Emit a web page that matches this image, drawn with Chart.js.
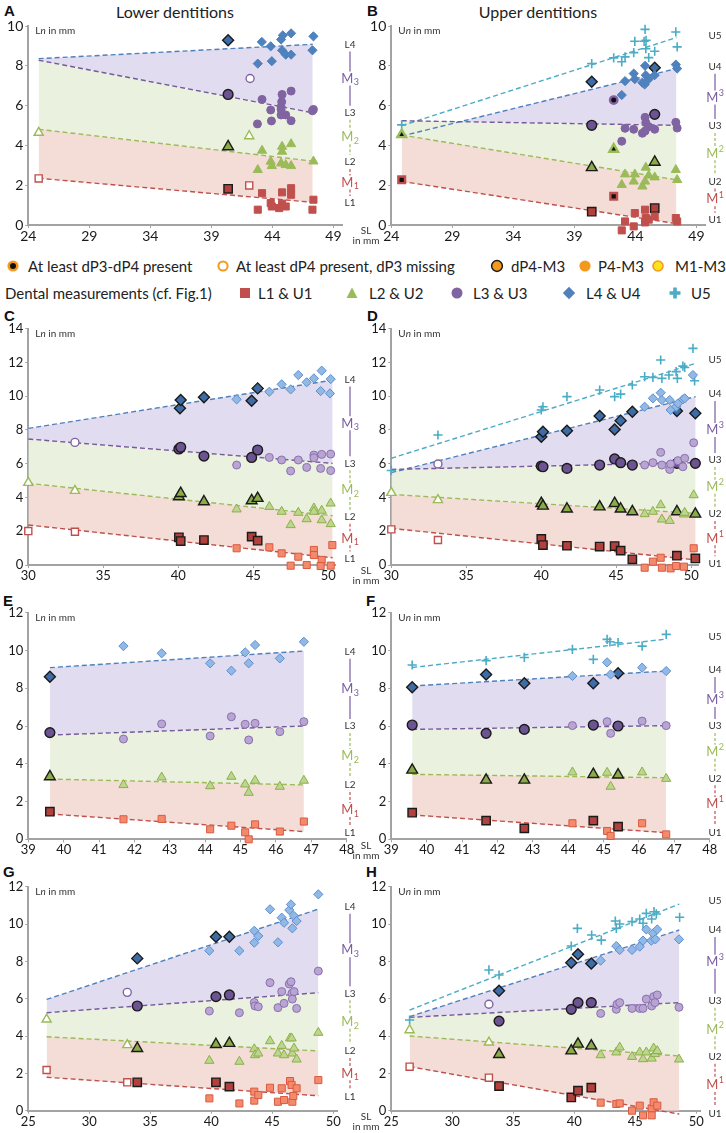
<!DOCTYPE html>
<html>
<head>
<meta charset="UTF-8">
<title>Lower and upper dentitions</title>
<script src="https://cdn.jsdelivr.net/npm/chart.js"></script>
<style>
  html, body { margin: 0; padding: 0; background: #fff; }
  #page { position: relative; width: 726px; height: 1133px; overflow: hidden; font-family: Lato, "Open Sans", sans-serif; color: #222; }
  #page canvas { position: absolute; }
  .tag { position: absolute; font: bold 15px "Liberation Sans", Arial, sans-serif; line-height: 15px; color: #111; }
  .title { position: absolute; width: 350px; text-align: center; font-size: 16px; line-height: 20px; }
  .leg { position: absolute; font-size: 15px; line-height: 18px; white-space: nowrap; }
  .mk { position: absolute; overflow: visible; }
</style>
</head>
<body>
<div id="page">
  <div class="tag" style="left:4px;top:3px">A</div>
  <div class="tag" style="left:367px;top:3px">B</div>
  <div class="tag" style="left:4px;top:308px">C</div>
  <div class="tag" style="left:367px;top:308px">D</div>
  <div class="tag" style="left:3px;top:593px">E</div>
  <div class="tag" style="left:366px;top:593px">F</div>
  <div class="tag" style="left:3px;top:864px">G</div>
  <div class="tag" style="left:366px;top:864px">H</div>
  <div class="title" style="left:0px;top:2px">Lower dentitions</div>
  <div class="title" style="left:363px;top:2px">Upper dentitions</div>

  <!-- legend, row 1 -->
  <svg class="mk" style="left:6px;top:259px" width="14" height="14"><circle cx="7" cy="7" r="4.3" fill="#111" stroke="#f39a1e" stroke-width="2.6"/></svg>
  <div class="leg" style="left:28px;top:257px">At least dP3-dP4 present</div>
  <svg class="mk" style="left:216px;top:259px" width="14" height="14"><circle cx="7" cy="7" r="4.6" fill="#fff" stroke="#f39a1e" stroke-width="2"/></svg>
  <div class="leg" style="left:236px;top:257px">At least dP4 present, dP3 missing</div>
  <svg class="mk" style="left:490px;top:259px" width="14" height="14"><circle cx="7" cy="7" r="5.4" fill="#f39a1e" stroke="#1a1a1a" stroke-width="1.5"/></svg>
  <div class="leg" style="left:511px;top:257px">dP4-M3</div>
  <svg class="mk" style="left:578px;top:259px" width="14" height="14"><circle cx="7" cy="7" r="5.6" fill="#f39a1e"/></svg>
  <div class="leg" style="left:598px;top:257px">P4-M3</div>
  <svg class="mk" style="left:651px;top:259px" width="14" height="14"><circle cx="7" cy="7" r="5" fill="#ffe21c" stroke="#f39a1e" stroke-width="1.6"/></svg>
  <div class="leg" style="left:675px;top:257px">M1-M3</div>

  <!-- legend, row 2 -->
  <div class="leg" style="left:5px;top:284px">Dental measurements (cf. Fig.1)</div>
  <svg class="mk" style="left:238px;top:286px" width="14" height="14"><rect x="2" y="2" width="10" height="10" fill="#c0504d"/></svg>
  <div class="leg" style="left:258px;top:284px">L1 &amp; U1</div>
  <svg class="mk" style="left:345px;top:286px" width="14" height="14"><polygon points="7,1.5 12.5,12 1.5,12" fill="#9bbb59"/></svg>
  <div class="leg" style="left:369px;top:284px">L2 &amp; U2</div>
  <svg class="mk" style="left:450px;top:286px" width="14" height="14"><circle cx="7" cy="7" r="5.5" fill="#8064a2"/></svg>
  <div class="leg" style="left:473px;top:284px">L3 &amp; U3</div>
  <svg class="mk" style="left:562px;top:286px" width="14" height="14"><polygon points="7,0.8 13.2,7 7,13.2 0.8,7" fill="#4f81bd"/></svg>
  <div class="leg" style="left:586px;top:284px">L4 &amp; U4</div>
  <svg class="mk" style="left:668px;top:286px" width="14" height="14"><path d="M7 1.5V12.5M1.5 7H12.5" stroke="#4bacc6" stroke-width="3.6"/></svg>
  <div class="leg" style="left:691px;top:284px">U5</div>
</div>

<script>
// tick labels
var xTicksAB = [24, 29, 34, 39, 44, 49];
var xTicksCD = [30, 35, 40, 45, 50];
var xTicksEF = [39, 40, 41, 42, 43, 44, 45, 46, 47, 48];
var xTicksGH = [25, 30, 35, 40, 45, 50];
var lowerTags = ['L4', 'M3', 'L3', 'M2', 'L2', 'M1', 'L1'];
var upperTags = ['U5', 'U4', 'M3', 'U3', 'M2', 'U2', 'M1', 'U1'];

// groups: D3 = at least dP3-dP4, D4 = dP4 present dP3 missing, DM = dP4-M3, PM = P4-M3, MM = M1-M3
// [SL, Ln or Un, group]

// A - lower
var aL1 = [[24.85,2.34,'D4'],[42.1,1.99,'D4'],[40.37,1.82,'DM'],[43.15,1.6,'PM'],[42.8,0.77,'PM'],[43.86,1.1,'PM'],[43.95,0.93,'PM'],[44.55,0.85,'PM'],[44.79,1.64,'PM'],[44.79,1.07,'PM'],[45.09,0.93,'PM'],[45.53,1.85,'PM'],[45.53,1.52,'PM'],[47.36,1.27,'PM'],[47.28,0.77,'PM']];
var aL2 = [[24.85,4.64,'D4'],[42.1,4.47,'D4'],[40.37,3.94,'DM'],[43.15,3.74,'PM'],[42.8,2.77,'PM'],[43.86,3.19,'PM'],[43.95,2.97,'PM'],[44.79,3.94,'PM'],[44.79,3.69,'PM'],[44.71,3.1,'PM'],[45.09,3.02,'PM'],[45.53,4.07,'PM'],[45.53,2.97,'PM'],[47.36,3.2,'PM']];
var aL3 = [[42.17,7.36,'D4'],[40.37,6.56,'DM'],[43.15,6.31,'PM'],[43.86,5.78,'PM'],[43.92,5.23,'PM'],[42.77,5.08,'PM'],[44.71,5.94,'PM'],[44.79,6.56,'PM'],[44.76,6.19,'PM'],[44.71,5.81,'PM'],[44.71,5.53,'PM'],[45.09,5.53,'PM'],[45.53,6.73,'PM'],[45.53,5.24,'PM'],[47.28,5.74,'PM'],[47.36,5.81,'PM']];
var aL4 = [[40.37,9.28,'DM'],[43.13,9.2,'PM'],[42.8,8.11,'PM'],[43.86,8.98,'PM'],[43.95,8.23,'PM'],[44.71,9.32,'PM'],[44.85,9.53,'PM'],[44.79,8.78,'PM'],[45.09,8.56,'PM'],[45.53,9.63,'PM'],[45.53,8.56,'PM'],[47.36,9.48,'PM'],[47.28,8.78,'PM']];
var aTrendX = [24.85, 47.3];
var aTrend = [[2.35,1.14],[4.81,3.21],[8.28,5.64],[8.36,9.08]];

// B - upper
var bU1 = [[24.85,2.27,'D3'],[42.22,1.44,'D3'],[40.42,0.67,'DM'],[45.58,0.85,'DM'],[42.88,-0.27,'PM'],[43.15,0.18,'PM'],[43.86,-0.07,'PM'],[43.95,0.6,'PM'],[44.57,-0.48,'PM'],[44.79,0.13,'PM'],[44.85,0.35,'PM'],[44.79,0.77,'PM'],[45.09,0.27,'PM'],[45.58,0.43,'PM'],[47.31,0.35,'PM'],[47.42,0.18,'PM']];
var bU2 = [[24.85,4.54,'D3'],[42.22,3.81,'D3'],[40.42,2.89,'DM'],[45.58,3.16,'DM'],[42.88,2.02,'PM'],[43.15,2.55,'PM'],[43.86,2.19,'PM'],[43.95,2.55,'PM'],[44.57,1.94,'PM'],[44.79,2.19,'PM'],[44.85,2.89,'PM'],[45.09,2.49,'PM'],[45.58,2.4,'PM'],[47.31,2.77,'PM'],[47.42,2.27,'PM']];
var bU3 = [[42.22,6.28,'D3'],[40.42,5.01,'DM'],[45.58,5.56,'DM'],[42.88,4.21,'PM'],[43.15,4.86,'PM'],[43.86,4.81,'PM'],[44.57,4.61,'PM'],[44.79,5.41,'PM'],[44.85,5.14,'PM'],[44.79,4.72,'PM'],[45.09,4.94,'PM'],[45.58,4.81,'PM'],[47.31,5.16,'PM'],[47.42,4.87,'PM']];
var bU4 = [[40.42,7.2,'DM'],[45.58,7.9,'DM'],[42.88,6.53,'PM'],[43.15,7.23,'PM'],[43.86,7.61,'PM'],[43.95,7.33,'PM'],[44.79,8.0,'PM'],[44.85,7.53,'PM'],[44.57,7.15,'PM'],[44.76,7.06,'PM'],[45.09,7.33,'PM'],[45.58,7.53,'PM'],[47.31,8.06,'PM'],[47.42,7.86,'PM']];
var bU5 = [[24.85,5.03,'D3'],[40.42,8.11,'DM'],[42.22,8.4,'D3'],[42.88,8.2,'PM'],[43.15,8.45,'PM'],[43.86,8.66,'PM'],[43.95,9.23,'PM'],[44.71,9.23,'PM'],[44.79,9.83,'PM'],[44.85,8.86,'PM'],[44.87,9.28,'PM'],[45.09,8.41,'PM'],[45.58,8.73,'DM'],[47.31,9.7,'PM'],[47.42,8.95,'PM']];
var bTrendX = [24.85, 47.36];
var bTrend = [[2.19,0.07],[4.52,2.27],[5.24,5.01],[4.47,7.86],[4.99,9.42]];

// C - lower
var cL1 = [[30.0,2.01,'D4'],[33.11,1.97,'D4'],[40.04,1.64,'DM'],[40.16,1.42,'DM'],[41.71,1.48,'DM'],[44.89,1.68,'DM'],[45.29,1.44,'DM'],[43.89,0.99,'MM'],[46.07,1.05,'MM'],[46.89,0.69,'MM'],[47.49,-0.04,'MM'],[48.0,0.49,'MM'],[48.56,0.0,'MM'],[49.04,0.89,'MM'],[49.04,0.59,'MM'],[49.56,0.3,'MM'],[49.49,-0.06,'MM'],[50.16,-0.04,'MM'],[50.27,1.18,'MM']];
var cL2 = [[30.0,4.87,'D4'],[33.11,4.4,'D4'],[40.04,4.05,'DM'],[40.16,4.24,'DM'],[41.71,3.75,'DM'],[44.89,3.81,'DM'],[45.29,3.95,'DM'],[43.89,3.3,'MM'],[46.07,3.45,'MM'],[46.89,3.16,'MM'],[47.49,2.37,'MM'],[48.0,3.1,'MM'],[48.56,2.72,'MM'],[49.04,3.36,'MM'],[49.04,3.16,'MM'],[49.56,2.66,'MM'],[49.56,3.22,'MM'],[50.16,3.65,'MM'],[50.16,2.43,'MM']];
var cL3 = [[33.11,7.26,'D4'],[40.04,6.87,'DM'],[40.16,6.97,'DM'],[41.71,6.45,'DM'],[44.89,6.37,'DM'],[45.29,6.81,'DM'],[43.89,5.92,'MM'],[46.07,6.37,'MM'],[46.89,6.22,'MM'],[47.49,5.57,'MM'],[48.0,6.22,'MM'],[48.56,5.78,'MM'],[49.04,6.51,'MM'],[49.04,6.35,'MM'],[49.49,5.72,'MM'],[49.56,6.55,'MM'],[50.16,6.57,'MM'],[50.16,5.59,'MM']];
var cL4 = [[40.11,9.28,'DM'],[40.16,9.77,'DM'],[41.71,9.93,'DM'],[44.89,9.73,'DM'],[45.29,10.46,'DM'],[43.89,9.81,'MM'],[46.07,10.26,'MM'],[46.89,10.7,'MM'],[47.49,10.4,'MM'],[48.0,11.25,'MM'],[48.56,10.82,'MM'],[49.04,11.05,'MM'],[49.49,10.3,'MM'],[49.56,11.51,'MM'],[50.16,11.01,'MM'],[50.11,10.16,'MM']];
var cTrendX = [30, 50.29];
var cTrend = [[2.37,0.43],[4.84,2.92],[7.46,6.02],[8.09,10.95]];

// D - upper
var dU1 = [[30.0,2.11,'D4'],[33.11,1.48,'D4'],[40.0,1.54,'DM'],[40.11,1.18,'DM'],[41.71,1.14,'DM'],[43.89,1.09,'DM'],[44.89,1.12,'DM'],[45.29,0.85,'DM'],[46.07,0.34,'DM'],[49.04,0.55,'DM'],[50.27,0.39,'DM'],[46.89,-0.16,'MM'],[47.44,0.2,'MM'],[47.96,0.43,'MM'],[48.04,-0.16,'MM'],[48.56,-0.59,'MM'],[48.62,-0.2,'MM'],[48.99,-0.06,'MM'],[49.51,-0.1,'MM'],[50.16,0.99,'MM']];
var dU2 = [[30.0,4.28,'D4'],[33.11,3.85,'D4'],[40.0,3.65,'DM'],[40.11,3.49,'DM'],[41.71,3.32,'DM'],[43.89,3.45,'DM'],[44.89,3.65,'DM'],[45.29,3.32,'DM'],[46.07,3.16,'DM'],[49.04,3.16,'DM'],[50.27,3.02,'DM'],[46.89,3.02,'MM'],[47.44,3.16,'MM'],[47.96,3.55,'MM'],[48.04,2.7,'MM'],[48.56,2.62,'MM'],[49.51,3.0,'MM'],[49.56,3.1,'MM'],[50.16,4.14,'MM']];
var dU3 = [[33.11,5.98,'D4'],[40.0,5.86,'DM'],[40.11,5.82,'DM'],[41.71,5.72,'DM'],[43.89,5.92,'DM'],[44.89,6.28,'DM'],[45.29,6.06,'DM'],[46.07,5.92,'DM'],[49.04,6.02,'DM'],[50.27,6.02,'DM'],[46.89,5.92,'MM'],[47.44,6.06,'MM'],[47.96,6.67,'MM'],[48.04,5.92,'MM'],[48.56,5.66,'MM'],[48.62,5.98,'MM'],[49.11,6.18,'MM'],[49.44,5.82,'MM'],[49.56,6.32,'MM'],[50.16,7.24,'MM']];
var dU4 = [[40.0,7.6,'DM'],[40.11,7.89,'DM'],[41.71,7.95,'DM'],[43.89,8.82,'DM'],[44.89,8.03,'DM'],[45.29,8.55,'DM'],[46.07,9.08,'DM'],[49.04,9.12,'DM'],[50.27,8.98,'DM'],[46.89,9.37,'MM'],[47.44,9.87,'MM'],[47.96,10.2,'MM'],[48.04,9.77,'MM'],[48.56,9.77,'MM'],[48.62,9.18,'MM'],[48.99,9.37,'MM'],[49.11,9.57,'MM'],[49.44,9.81,'MM'],[49.56,9.87,'MM'],[50.11,11.25,'MM']];
var dU5 = [[30.0,5.6,'D4'],[33.11,7.7,'D4'],[40.0,9.18,'DM'],[40.11,9.37,'DM'],[41.71,9.97,'DM'],[43.89,10.36,'DM'],[44.89,9.97,'DM'],[45.29,10.12,'DM'],[46.07,10.66,'DM'],[46.89,11.15,'MM'],[47.44,11.11,'MM'],[47.96,12.14,'MM'],[48.04,11.05,'MM'],[48.51,11.25,'MM'],[48.99,11.45,'MM'],[49.07,11.05,'MM'],[49.44,11.78,'MM'],[49.56,11.7,'MM'],[50.11,12.83,'MM'],[50.22,10.91,'MM']];
var dTrendX = [30, 50.29];
var dTrend = [[2.17,0.3],[4.18,3.06],[5.66,6.06],[5.47,9.97],[6.32,11.94]];

// E - lower
var eL1 = [[39.61,1.46,'DM'],[41.69,1.06,'MM'],[42.77,1.08,'MM'],[44.14,0.53,'MM'],[44.74,0.72,'MM'],[45.13,0.37,'MM'],[45.23,0.0,'MM'],[45.41,0.79,'MM'],[46.11,0.41,'MM'],[46.79,0.94,'MM']];
var eL2 = [[39.61,3.32,'DM'],[41.69,2.88,'MM'],[42.77,3.28,'MM'],[44.14,2.82,'MM'],[44.74,3.32,'MM'],[45.13,2.91,'MM'],[45.23,2.47,'MM'],[45.41,3.11,'MM'],[46.11,2.79,'MM'],[46.79,3.11,'MM']];
var eL3 = [[39.61,5.65,'DM'],[41.69,5.31,'MM'],[42.77,6.11,'MM'],[44.14,5.47,'MM'],[44.74,6.49,'MM'],[45.13,6.09,'MM'],[45.23,5.26,'MM'],[45.41,6.14,'MM'],[46.11,5.7,'MM'],[46.79,6.23,'MM']];
var eL4 = [[39.61,8.61,'DM'],[41.69,10.23,'MM'],[42.77,9.85,'MM'],[44.14,9.32,'MM'],[44.74,8.93,'MM'],[45.13,9.9,'MM'],[45.23,9.32,'MM'],[45.41,10.29,'MM'],[46.11,9.58,'MM'],[46.79,10.46,'MM']];
var eTrendX = [39.61, 46.79];
var eTrend = [[1.34,0.41],[3.19,2.88],[5.52,6.0],[9.09,9.97]];

// F - upper
var fU1 = [[39.59,1.41,'DM'],[41.68,0.99,'DM'],[42.76,0.58,'DM'],[44.71,0.99,'DM'],[45.41,0.67,'DM'],[44.12,0.85,'MM'],[45.1,0.44,'MM'],[45.2,0.18,'MM'],[46.09,0.85,'MM'],[46.77,0.26,'MM']];
var fU2 = [[39.59,3.67,'DM'],[41.68,3.14,'DM'],[42.76,3.14,'DM'],[44.71,3.44,'DM'],[45.41,3.41,'DM'],[44.12,3.55,'MM'],[45.1,3.53,'MM'],[45.2,2.79,'MM'],[46.09,3.55,'MM'],[46.77,3.21,'MM']];
var fU3 = [[39.59,6.05,'DM'],[41.68,5.61,'DM'],[42.76,5.82,'DM'],[44.71,6.05,'DM'],[45.41,6.0,'DM'],[44.12,6.02,'MM'],[45.1,6.23,'MM'],[45.2,5.61,'MM'],[46.09,6.26,'MM'],[46.77,6.02,'MM']];
var fU4 = [[39.59,8.05,'DM'],[41.68,8.73,'DM'],[42.76,8.26,'DM'],[44.71,8.26,'DM'],[45.41,8.79,'DM'],[44.12,8.65,'MM'],[45.1,9.37,'MM'],[45.2,8.73,'MM'],[46.09,9.09,'MM'],[46.77,8.91,'MM']];
var fU5 = [[39.59,9.23,'DM'],[41.68,9.46,'DM'],[42.76,9.63,'DM'],[44.12,10.06,'MM'],[44.71,9.53,'DM'],[45.1,10.59,'MM'],[45.18,10.46,'MM'],[45.41,10.41,'DM'],[46.09,10.23,'MM'],[46.77,10.85,'MM']];
var fTrendX = [39.59, 46.77];
var fTrend = [[1.29,0.35],[3.44,3.26],[5.82,6.02],[8.12,8.91],[9.1,10.6]];

// G - lower
var gL1 = [[26.5,2.18,'D4'],[33.11,1.52,'D4'],[33.93,1.52,'DM'],[40.38,1.52,'DM'],[41.48,1.29,'DM'],[39.84,0.66,'MM'],[42.3,0.39,'MM'],[43.52,1.02,'MM'],[43.52,0.54,'MM'],[43.85,0.84,'MM'],[44.81,1.23,'MM'],[45.46,0.48,'MM'],[45.77,1.2,'MM'],[45.96,0.57,'MM'],[46.45,1.59,'MM'],[46.58,1.38,'MM'],[46.64,0.48,'MM'],[46.72,0.79,'MM'],[46.99,1.2,'MM'],[48.77,1.64,'MM']];
var gL2 = [[26.5,4.89,'D4'],[33.11,3.52,'D4'],[33.93,3.34,'DM'],[40.38,3.55,'DM'],[41.48,3.61,'DM'],[39.84,2.68,'MM'],[42.3,2.63,'MM'],[43.52,3.3,'MM'],[43.58,2.98,'MM'],[43.85,3.07,'MM'],[44.81,3.73,'MM'],[45.46,3.07,'MM'],[45.77,3.48,'MM'],[45.96,2.98,'MM'],[46.45,3.88,'MM'],[46.58,3.88,'MM'],[46.64,3.07,'MM'],[46.78,3.34,'MM'],[46.99,2.75,'MM'],[48.77,4.18,'MM']];
var gL3 = [[33.11,6.34,'D4'],[33.93,5.61,'DM'],[40.38,6.11,'DM'],[41.48,6.2,'DM'],[39.84,5.34,'MM'],[42.3,5.25,'MM'],[43.52,5.8,'MM'],[43.58,5.61,'MM'],[43.85,5.57,'MM'],[44.81,6.86,'MM'],[45.46,5.52,'MM'],[45.77,6.38,'MM'],[45.96,5.75,'MM'],[46.39,6.79,'MM'],[46.53,6.91,'MM'],[46.61,6.29,'MM'],[46.64,5.98,'MM'],[46.78,6.38,'MM'],[46.99,5.48,'MM'],[48.77,7.48,'MM']];
var gL4 = [[33.93,8.16,'DM'],[40.38,9.32,'DM'],[41.48,9.32,'DM'],[39.84,8.57,'MM'],[42.3,8.57,'MM'],[43.52,9.64,'MM'],[43.52,9.0,'MM'],[43.85,9.36,'MM'],[44.81,10.79,'MM'],[45.46,9.02,'MM'],[45.77,10.34,'MM'],[45.96,10.07,'MM'],[46.39,10.75,'MM'],[46.53,11.05,'MM'],[46.64,9.77,'MM'],[46.78,10.43,'MM'],[46.99,10.16,'MM'],[48.77,11.59,'MM']];
var gTrendX = [26.5, 48.77];
var gTrend = [[1.79,0.8],[3.96,3.2],[5.25,6.32],[5.96,10.8]];

// H - upper
var hU1 = [[26.5,2.36,'D4'],[33.0,1.77,'D4'],[33.83,1.32,'DM'],[39.75,0.71,'DM'],[40.3,1.07,'DM'],[41.39,1.23,'DM'],[42.16,0.43,'MM'],[43.44,0.36,'MM'],[43.72,0.39,'MM'],[44.73,0.0,'MM'],[45.36,0.27,'MM'],[45.63,-0.25,'MM'],[46.34,0.12,'MM'],[46.34,-0.25,'MM'],[46.5,0.45,'MM'],[46.8,0.27,'MM'],[48.58,-0.59,'MM']];
var hU2 = [[26.5,4.32,'D4'],[33.0,3.66,'D4'],[33.83,3.02,'DM'],[39.75,3.21,'DM'],[40.3,3.57,'DM'],[41.39,3.48,'DM'],[42.16,2.98,'MM'],[43.44,3.13,'MM'],[43.72,3.39,'MM'],[44.73,2.89,'MM'],[45.36,3.13,'MM'],[45.63,2.77,'MM'],[45.9,3.13,'MM'],[46.34,2.8,'MM'],[46.5,3.34,'MM'],[46.61,3.04,'MM'],[46.8,3.2,'MM'],[48.58,2.75,'MM']];
var hU3 = [[33.0,5.7,'D4'],[33.83,4.8,'DM'],[39.75,5.43,'DM'],[40.3,5.79,'DM'],[41.39,5.79,'DM'],[42.16,5.21,'MM'],[43.44,5.43,'MM'],[43.5,5.7,'MM'],[43.72,5.79,'MM'],[44.73,5.48,'MM'],[45.36,5.48,'MM'],[45.63,5.48,'MM'],[45.9,5.98,'MM'],[46.34,5.61,'MM'],[46.5,6.11,'MM'],[46.61,5.79,'MM'],[46.8,6.2,'MM'],[48.58,5.54,'MM']];
var hU4 = [[33.83,6.43,'DM'],[39.75,7.93,'DM'],[40.3,8.38,'DM'],[41.39,7.89,'DM'],[42.16,8.04,'MM'],[43.44,8.82,'MM'],[43.72,8.61,'MM'],[44.73,8.61,'MM'],[45.36,8.79,'MM'],[45.63,9.11,'MM'],[45.9,9.71,'MM'],[46.31,9.11,'MM'],[46.45,9.5,'MM'],[46.64,9.18,'MM'],[46.8,9.71,'MM'],[48.58,9.18,'MM']];
var hU5 = [[26.5,4.86,'D4'],[33.0,7.54,'D4'],[33.83,7.27,'DM'],[39.75,8.82,'DM'],[40.25,9.77,'DM'],[41.42,9.41,'DM'],[42.21,9.14,'MM'],[43.36,10.16,'MM'],[43.44,9.77,'MM'],[43.72,10.0,'MM'],[44.73,10.13,'MM'],[45.36,10.27,'MM'],[45.63,10.04,'MM'],[45.9,10.57,'MM'],[46.34,10.27,'MM'],[46.53,10.66,'MM'],[46.72,10.54,'MM'],[48.63,10.36,'MM']];
var hTrendX = [26.5, 48.6];
var hTrend = [[2.36,-0.18],[4.0,2.93],[5.0,5.79],[5.04,9.68],[5.39,11.07]];

// ---------------------------------------------------------------

var page = document.getElementById('page');
var FONT = 'Lato, "Open Sans", sans-serif';
var axisGrey = '#a3a3a3';

// colours of the five measurement series (1..4 lower/upper, 5 = U5)
var seriesColors = {
	1: { base: '#c0504d', light: '#f48a6c', lightEdge: '#d85a42', dark: '#b0413d', line: '#c0504d', shape: 'rect', r: 5 },
	2: { base: '#9bbb59', light: '#bcd68e', lightEdge: '#8daf4c', dark: '#8aab46', line: '#9bbb59', shape: 'triangle', r: 5.3 },
	3: { base: '#8064a2', light: '#b8a5d2', lightEdge: '#8a70b0', dark: '#6c5391', line: '#765a9c', shape: 'circle', r: 4 },
	4: { base: '#4f81bd', light: '#92b9e6', lightEdge: '#5d8fcf', dark: '#3e6ca7', line: '#4f81bd', shape: 'rectRot', r: 4.6 },
	5: { base: '#4bacc6', line: '#4bacc6', shape: 'cross', r: 4.6 }
};
var bandColors = { 1: '#f4ddd6', 2: '#ebf1df', 3: '#e1dcef' };

function markStyle(k, code) {
	var c = seriesColors[k];
	if (c.shape === 'cross') return { bg: c.base, bd: c.base, bw: 1.6, r: c.r };
	switch (code) {
		case 'DM': return { bg: c.dark, bd: '#1a1a1a', bw: 1.4, r: c.r + 0.9 };
		case 'D4': return { bg: '#ffffff', bd: c.base, bw: 1.4, r: c.r };
		case 'D3': return { bg: '#111111', bd: c.base, bw: 2.4, r: c.r - 0.3 };
		case 'MM': return { bg: c.light, bd: c.lightEdge, bw: 1, r: c.r };
		default: return { bg: c.base, bd: c.base, bw: 1, r: c.r };
	}
}

var rows = [
	{ top: 0, h: 252, padTop: 26, xH: 27, yMax: 10, font: 14, right: 342 },
	{ top: 300, h: 290, padTop: 28.6, xH: 25, yMax: 14, font: 13, right: 335.8 },
	{ top: 590, h: 272, padTop: 22.7, xH: 22.7, yMax: 12, font: 13, right: 346.7 },
	{ top: 862, h: 271, padTop: 24.7, xH: 22.3, yMax: 12, font: 13, right: 337 }
];

var panels = [
	{ col: 0, row: 0, lower: true, series: [aL1, aL2, aL3, aL4], tx: aTrendX, tr: aTrend, xr: [24, 49.7], xt: xTicksAB, tagY: [9.07, 7.36, 5.64, 4.41, 3.16, 2.14, 1.1] },
	{ col: 1, row: 0, lower: false, series: [bU1, bU2, bU3, bU4, bU5], tx: bTrendX, tr: bTrend, xr: [24, 49.7], xt: xTicksAB, tagY: [9.53, 7.95, 6.41, 4.97, 3.6, 2.19, 1.3, 0.27] },
	{ col: 0, row: 1, lower: true, series: [cL1, cL2, cL3, cL4], tx: cTrendX, tr: cTrend, xr: [30, 50.5], xt: xTicksCD, tagY: [10.99, 8.39, 6.02, 4.44, 2.86, 1.58, 0.39] },
	{ col: 1, row: 1, lower: false, series: [dU1, dU2, dU3, dU4, dU5], tx: dTrendX, tr: dTrend, xr: [30, 50.5], xt: xTicksCD, tagY: [12.18, 10.12, 8.0, 6.22, 4.64, 3.02, 1.58, 0.1] },
	{ col: 0, row: 2, lower: true, series: [eL1, eL2, eL3, eL4], tx: eTrendX, tr: eTrend, xr: [39, 48], xt: xTicksEF, tagY: [9.93, 7.96, 6.0, 4.41, 2.88, 1.55, 0.32] },
	{ col: 1, row: 2, lower: false, series: [fU1, fU2, fU3, fU4, fU5], tx: fTrendX, tr: fTrend, xr: [39, 48], xt: xTicksEF, tagY: [10.73, 8.96, 7.38, 6.0, 4.64, 3.23, 1.87, 0.35] },
	{ col: 0, row: 3, lower: true, series: [gL1, gL2, gL3, gL4], tx: gTrendX, tr: gTrend, xr: [25, 50.3], xt: xTicksGH, tagY: [10.93, 8.6, 6.29, 4.77, 3.2, 2.0, 0.75] },
	{ col: 1, row: 3, lower: false, series: [hU1, hU2, hU3, hU4, hU5], tx: hTrendX, tr: hTrend, xr: [25, 50.3], xt: xTicksGH, tagY: [11.23, 9.68, 7.98, 5.89, 4.36, 2.89, 1.38, -0.14] }
];

var tagColor = { '3': '#7a5ca3', '2': '#9bbb59', '1': '#c0504d' };

function drawM(ctx, x, y, digit, sup) {
	ctx.font = '13px ' + FONT;
	var w1 = ctx.measureText('M').width;
	ctx.font = '9px ' + FONT;
	var w2 = ctx.measureText(digit).width;
	var x0 = x - (w1 + w2) / 2;
	ctx.fillStyle = tagColor[digit];
	ctx.textAlign = 'left';
	ctx.textBaseline = 'middle';
	ctx.font = '13px ' + FONT;
	ctx.fillText('M', x0, y);
	ctx.font = '9px ' + FONT;
	ctx.fillText(digit, x0 + w1 + 0.3, sup ? y - 4.5 : y + 4);
}

function decoPlugin(p) {
	return {
		id: 'deco',
		afterDraw: function (chart) {
			var ctx = chart.ctx, a = chart.chartArea, ys = chart.scales.y;
			ctx.save();
			// axis caption inside the plot
			ctx.fillStyle = '#333';
			ctx.textBaseline = 'middle';
			ctx.textAlign = 'left';
			var cx = a.left + 7, cy = a.top + 5;
			ctx.font = '10px ' + FONT;
			var first = p.lower ? 'L' : 'U';
			ctx.fillText(first, cx, cy);
			cx += ctx.measureText(first).width;
			ctx.font = 'italic 10px ' + FONT;
			ctx.fillText('n', cx, cy);
			cx += ctx.measureText('n').width;
			ctx.font = '10px ' + FONT;
			ctx.fillText(' in mm', cx, cy);

			// tooth position labels on the right
			var tags = p.lower ? lowerTags : upperTags;
			var lx = p.col === 0 ? 350 : 352;
			var py = p.tagY.map(function (v) { return ys.getPixelForValue(v); });
			for (var i = 0; i < tags.length - 1; i++) {
				if (tags[i] === 'U5') continue;
				var m = tags[i][0] === 'M' ? tags[i] : tags[i + 1];
				var d = m[1];
				ctx.beginPath();
				ctx.strokeStyle = tagColor[d];
				ctx.lineWidth = 1.2;
				ctx.setLineDash(d === '3' ? [] : [3, 2]);
				var y0 = py[i] + 7, y1 = py[i + 1] - 7;
				if (y1 > y0) {
					ctx.moveTo(lx, y0);
					ctx.lineTo(lx, y1);
					ctx.stroke();
				}
			}
			ctx.setLineDash([]);
			for (var j = 0; j < tags.length; j++) {
				if (tags[j][0] === 'M') {
					drawM(ctx, lx, py[j], tags[j][1], !p.lower);
				} else {
					ctx.font = '10px ' + FONT;
					ctx.fillStyle = '#333';
					ctx.textAlign = 'center';
					ctx.textBaseline = 'middle';
					ctx.fillText(tags[j], lx, py[j]);
				}
			}

			// x axis caption for the left column
			if (p.col === 0) {
				ctx.font = '10px ' + FONT;
				ctx.fillStyle = '#333';
				ctx.textAlign = 'center';
				ctx.fillText('SL', 366, a.bottom + 6);
				ctx.fillText('in mm', 366, a.bottom + 16);
			}
			ctx.restore();
		}
	};
}

function buildPanel(p) {
	var g = rows[p.row];
	var w = p.col === 0 ? 385 : 363;
	var cv = document.createElement('canvas');
	cv.width = w;
	cv.height = g.h;
	cv.style.left = (p.col * 363) + 'px';
	cv.style.top = g.top + 'px';
	cv.style.width = w + 'px';
	cv.style.height = g.h + 'px';
	page.appendChild(cv);

	var datasets = [];
	// trend lines and the bands between them
	p.tr.forEach(function (t, i) {
		var k = i + 1;
		datasets.push({
			type: 'line',
			data: [{ x: p.tx[0], y: t[0] }, { x: p.tx[1], y: t[1] }],
			borderColor: seriesColors[k].line,
			borderWidth: 1.4,
			borderDash: [5, 3],
			pointRadius: 0,
			fill: (k >= 2 && k <= 4) ? '-1' : false,
			backgroundColor: bandColors[k - 1] || 'transparent',
			clip: false,
			order: 5
		});
	});
	// measurements
	p.series.forEach(function (arr, i) {
		var k = i + 1;
		var st = arr.map(function (d) { return markStyle(k, d[2]); });
		datasets.push({
			type: 'scatter',
			data: arr.map(function (d) { return { x: d[0], y: d[1] }; }),
			pointStyle: seriesColors[k].shape,
			pointRadius: st.map(function (s) { return s.r; }),
			pointBackgroundColor: st.map(function (s) { return s.bg; }),
			pointBorderColor: st.map(function (s) { return s.bd; }),
			pointBorderWidth: st.map(function (s) { return s.bw; }),
			clip: false,
			order: 0
		});
	});

	new Chart(cv, {
		type: 'scatter',
		data: { datasets: datasets },
		options: {
			responsive: false,
			animation: false,
			devicePixelRatio: 1,
			events: [],
			layout: { autoPadding: false, padding: { left: 0, top: g.padTop, right: w - g.right, bottom: 0 } },
			plugins: {
				legend: { display: false },
				tooltip: { enabled: false },
				filler: { drawTime: 'beforeDatasetsDraw' }
			},
			scales: {
				x: {
					type: 'linear',
					min: p.xr[0],
					max: p.xr[1],
					afterBuildTicks: function (s) { s.ticks = p.xt.map(function (v) { return { value: v }; }); },
					afterFit: function (s) { s.height = g.xH; },
					grid: { drawOnChartArea: false, drawTicks: true, tickLength: 3, color: axisGrey, lineWidth: 1 },
					border: { color: axisGrey, width: 2 },
					ticks: { autoSkip: false, maxRotation: 0, padding: 0, color: '#1a1a1a', font: { family: FONT, size: g.font } }
				},
				y: {
					type: 'linear',
					min: 0,
					max: g.yMax,
					afterFit: function (s) { s.width = 28.3; },
					grid: { drawOnChartArea: false, drawTicks: true, tickLength: 3, color: axisGrey, lineWidth: 1 },
					border: { color: axisGrey, width: 2 },
					ticks: { stepSize: 2, padding: 2, color: '#1a1a1a', font: { family: FONT, size: g.font } }
				}
			}
		},
		plugins: [decoPlugin(p)]
	});
}

panels.forEach(buildPanel);
</script>
</body>
</html>
